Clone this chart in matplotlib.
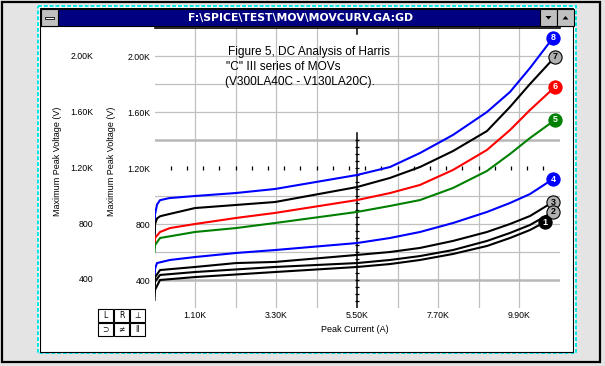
import numpy as np
import matplotlib.pyplot as plt
from matplotlib.patches import Rectangle, Polygon

plt.rcParams['font.family'] = ['Liberation Sans', 'DejaVu Sans']

# Peak current (A) / maximum peak voltage (V) (upper group)
i8 = [0, 15, 70, 150, 400, 1100, 2200, 3270, 5500, 6396, 7211, 8107, 9030, 9655, 10198, 10822]
v8 = [730, 870, 940, 970, 985, 1000, 1021, 1050, 1150, 1207, 1307, 1436, 1600, 1743, 1914, 2129]
i7 = [0, 15, 70, 150, 285, 1100, 2213, 3273, 5500, 6396, 7211, 8107, 9030, 9655, 10198, 10876]
v7 = [670, 800, 840, 855, 864, 914, 936, 957, 1064, 1129, 1207, 1321, 1464, 1636, 1800, 1993]
i6 = [0, 15, 150, 420, 1100, 2213, 3273, 5500, 6396, 7211, 8107, 9030, 9655, 10198, 10876]
v6 = [636, 700, 743, 771, 800, 843, 879, 971, 1021, 1079, 1186, 1329, 1471, 1614, 1779]
i5 = [0, 15, 150, 1100, 2213, 3273, 5500, 6396, 7211, 8107, 9030, 9655, 10198, 10876]
v5 = [600, 650, 700, 743, 771, 807, 886, 929, 971, 1057, 1179, 1300, 1414, 1543]

# lower group
i4 = [0, 15, 68, 420, 1100, 2213, 3273, 5500, 6396, 7211, 8107, 9030, 9655, 10198, 10822]
v4 = [400, 480, 521, 543, 564, 593, 614, 664, 700, 743, 807, 886, 950, 1014, 1121]
i3 = [0, 15, 150, 1100, 2213, 3273, 5500, 6396, 7211, 8107, 9030, 9655, 10198, 10822]
v3 = [364, 420, 471, 493, 521, 529, 579, 600, 629, 679, 743, 800, 857, 957]
i2 = [0, 15, 150, 1100, 3273, 5500, 6396, 7211, 8107, 9030, 9655, 10198, 10822]
v2 = [329, 390, 436, 457, 493, 521, 543, 571, 614, 679, 736, 793, 886]
i1 = [0, 15, 150, 1100, 3273, 5500, 6396, 7211, 8107, 9030, 9655, 10198, 10605]
v1 = [257, 330, 400, 421, 457, 493, 514, 543, 586, 643, 700, 757, 814]

curves = [(i8, v8, '#0000ff', '8'), (i7, v7, 'black', '7'), (i6, v6, '#ff0000', '6'),
          (i5, v5, '#008000', '5'), (i4, v4, '#0000ff', '4'), (i3, v3, 'black', '3'),
          (i2, v2, 'black', '2'), (i1, v1, 'black', '1')]

x_ticks = [1100, 3300, 5500, 7700, 9900]
x_labels = ['1.10K', '3.30K', '5.50K', '7.70K', '9.90K']
y_ticks = [400, 800, 1200, 1600, 2000]
y_labels = ['400', '800', '1.20K', '1.60K', '2.00K']

W, H = 605, 366
fig = plt.figure(figsize=(W / 100, H / 100), dpi=100)

# window chrome, drawn in pixel coordinates
bg = fig.add_axes([0, 0, 1, 1])
bg.set_xlim(0, W)
bg.set_ylim(H, 0)
bg.axis('off')
bg.add_patch(Rectangle((0, 0), W, H, fc='#e4e4e4', ec='none'))
bg.add_patch(Rectangle((2, 2), 598, 360, fc='none', ec='black', lw=1.6))
bg.add_patch(Rectangle((38, 6), 538, 347, fc='white', ec='#00e8e8', lw=1.4, ls=(0, (2, 1))))
bg.add_patch(Rectangle((40, 8), 533, 344, fc='none', ec='black', lw=0.8))
bg.add_patch(Rectangle((41, 9), 532, 17, fc='#000080', ec='black', lw=0.8))
for x0 in [41, 540, 557]:
    bg.add_patch(Rectangle((x0, 9), 16.5, 17, fc='#c0c0c0', ec='black', lw=0.8))
bg.add_patch(Rectangle((45, 16.5), 9, 2.5, fc='white', ec='black', lw=0.6))
bg.add_patch(Polygon([[545.5, 16], [551.5, 16], [548.5, 19.5]], closed=True, fc='black'))
bg.add_patch(Polygon([[562.5, 19.5], [568.5, 19.5], [565.5, 16]], closed=True, fc='black'))
bg.text(301, 17.5, 'F:\\SPICE\\TEST\\MOV\\MOVCURV.GA:GD', color='white', fontweight='bold',
        fontsize=7.8, ha='center', va='center', family='DejaVu Sans')

# little button block at bottom left
btn_labels = [['L', 'R', '\u22a5'], ['\u2283', '\u2260', 'II']]
for r, row in enumerate(btn_labels):
    for c, lab in enumerate(row):
        bx, by = 98 + c * 16, 309 + r * 14
        bg.add_patch(Rectangle((bx, by), 15, 13, fc='white', ec='black', lw=0.8))
        bg.text(bx + 7.5, by + 6.8, lab, fontsize=5.5, ha='center', va='center',
                family='DejaVu Sans')

# plot area
ax = fig.add_axes([154.5 / W, 1 - 308 / H, 405 / W, 280 / H])
ax.set_xlim(0, 11000)
ax.set_ylim(200, 2200)
ax.patch.set_alpha(0)
for s in ax.spines.values():
    s.set_visible(False)

for x in np.arange(1100, 11000, 1100):
    if x != 5500:
        ax.axvline(x, color='#c0c0c0', lw=0.9, zorder=1)
for y in np.arange(400, 2200, 200):
    if y == 1200:
        continue
    if y in (400, 1400):
        ax.axhline(y, color='#b8b8b8', lw=1.8, zorder=1)
    else:
        ax.axhline(y, color='#c0c0c0', lw=0.9, zorder=1)
ax.axhline(2200, color='black', lw=1.2, zorder=2, clip_on=False)

# crosshair axis with ticks
tx = np.arange(440, 11000, 440)
ax.plot(tx, [1200] * len(tx), ls='none', marker='|', ms=3, mew=0.9, color='black', zorder=2)
ax.plot([5500, 5500], [200, 1450], color='black', lw=1.1, zorder=2)
ty = np.arange(250, 1450, 50)
ax.plot([5500] * len(ty), ty, ls='none', marker='_', ms=3, mew=0.9, color='black', zorder=2)
ax.plot([5500, 5500], [2200, 2160], color='black', lw=1.1, zorder=2)

for xs, ys, col, num in curves:
    ax.plot(xs, ys, color=col, lw=1.5, zorder=3)
    if col == 'black':
        fc, tc = ('black', 'white') if num == '1' else ('#b0b0b0', 'black')
    else:
        fc, tc = col, 'white'
    ax.plot(xs[-1], ys[-1], marker='o', ms=9.5, mfc=fc, mec='black' if col == 'black' else col,
            mew=0.8, zorder=4, clip_on=False)
    ax.text(xs[-1], ys[-1], num, color=tc, fontsize=6.5, fontweight='bold', ha='center',
            va='center', zorder=5, clip_on=False)

ax.set_xticks(x_ticks, x_labels)
ax.set_yticks(y_ticks, y_labels)
ax.tick_params(length=0, labelsize=6.3, pad=3.2)
ax.tick_params(axis='x', pad=2)

# second column of voltage labels
for v, lab in zip(y_ticks, y_labels):
    ax.text(-(154.5 - 93) / 405, v, lab, transform=ax.get_yaxis_transform(), ha='right',
            va='center', fontsize=6.3)

for xp in [58, 112]:
    fig.text(xp / W, 1 - 161 / H, 'Maximum Peak Voltage (V)', rotation=90, ha='center',
             va='center', fontsize=6.5)
fig.text(355 / W, 1 - 330 / H, 'Peak Current (A)', ha='center', va='center', fontsize=6.5)

notes = ['Figure 5, DC Analysis of Harris', '"C" III series of MOVs',
         '(V300LA40C - V130LA20C).']
for k, (xp, line) in enumerate(zip([228, 226, 225], notes)):
    fig.text(xp / W, 1 - (52 + 15 * k) / H, line, ha='left', va='center', fontsize=8.6)

fig.savefig('out.png', dpi=100)
